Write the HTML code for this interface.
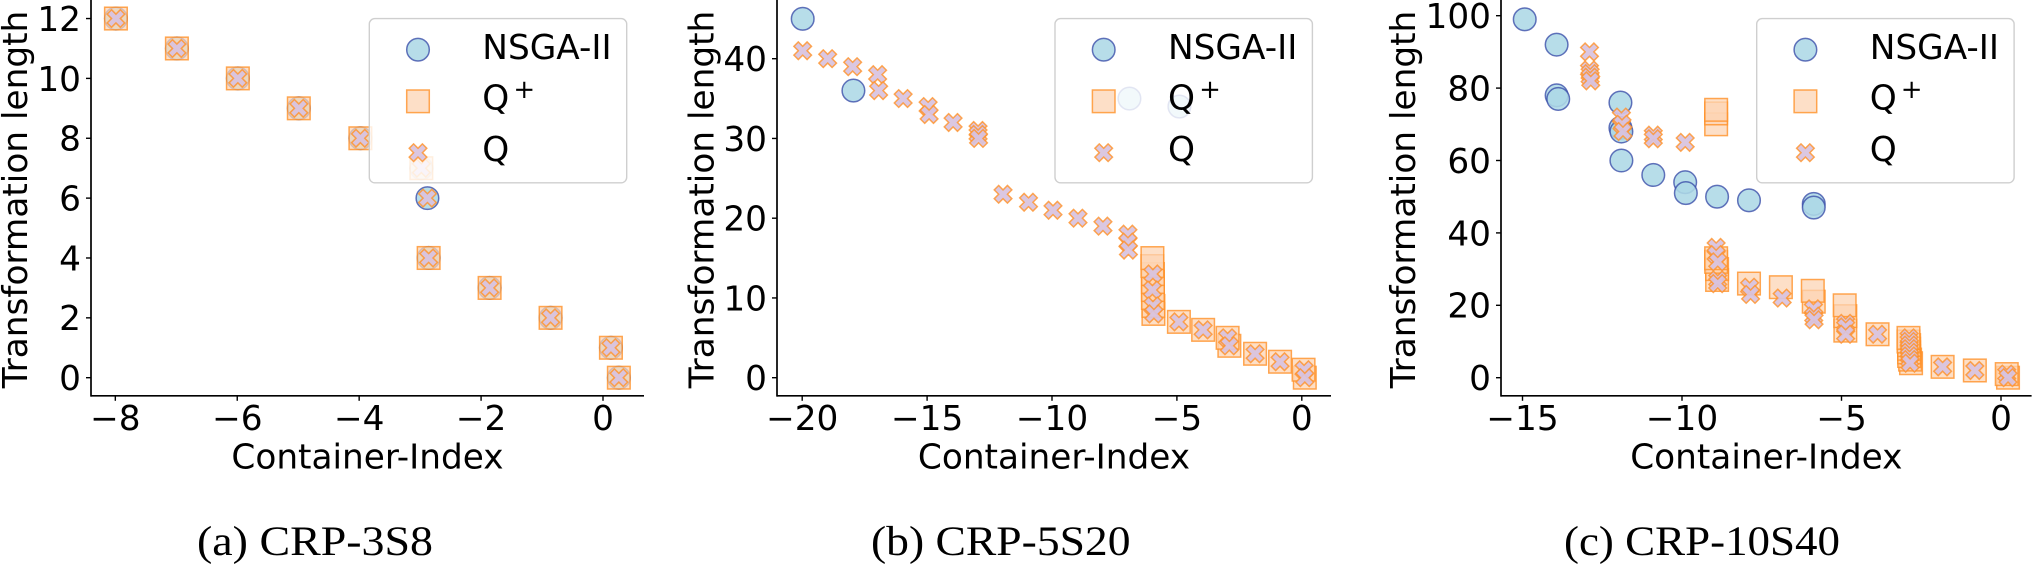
<!DOCTYPE html>
<html lang="en">
<head>
<meta charset="utf-8">
<title>Transformation length vs Container-Index</title>
<style>
html,body{margin:0;padding:0;background:#fff;width:2033px;height:565px;overflow:hidden}
svg{display:block}
text{font-family:"DejaVu Sans","Liberation Sans",sans-serif;fill:#000;text-rendering:geometricPrecision}
.cap{font-family:"Liberation Serif",serif}
</style>
</head>
<body>
<svg id="figure" xmlns="http://www.w3.org/2000/svg" width="2033" height="565" viewBox="0 0 2033 565"></svg>
<script>
// ---- Panel (a) CRP-3S8 ----
const aXTicks = [-8, -6, -4, -2, 0];
const aYTicks = [0, 2, 4, 6, 8, 10, 12];
const aNsgaX = [-7.99, -6.99, -5.99, -4.99, -3.98, -2.98, -2.88, -2.86, -1.86, -0.86, 0.13, 0.26];
const aNsgaY = [12, 11, 10, 9, 8, 7, 6, 4, 3, 2, 1, 0];
const aQPlusX = [-7.99, -6.99, -5.99, -4.99, -3.98, -2.98, -2.86, -1.86, -0.86, 0.13, 0.26];
const aQPlusY = [12, 11, 10, 9, 8, 7, 4, 3, 2, 1, 0];
const aQX = [-7.99, -6.99, -5.99, -4.99, -3.98, -2.98, -2.88, -2.86, -1.86, -0.86, 0.13, 0.26];
const aQY = [12, 11, 10, 9, 8, 7, 6, 4, 3, 2, 1, 0];

// ---- Panel (b) CRP-5S20 ----
const bXTicks = [-20, -15, -10, -5, 0];
const bYTicks = [0, 10, 20, 30, 40];
const bNsgaX = [-19.98, -17.95, -6.9, -4.9];
const bNsgaY = [45, 36, 35, 34];
const bQPlusX = [-5.98, -5.98, -5.96, -5.96, -5.96, -5.96, -5.94, -5.94, -4.92, -3.95, -2.97, -2.9, -1.87, -0.87, 0.07, 0.12];
const bQPlusY = [15, 14, 13, 12, 11, 10, 9, 8, 7, 6, 5, 4, 3, 2, 1, 0];
const bQX = [-19.98, -18.98, -17.98, -16.98, -16.94, -15.96, -14.96, -14.92, -13.96, -12.96, -12.96, -12.94, -11.96, -10.94, -9.96, -8.96, -7.96, -6.96, -6.96, -6.94, -5.96, -5.98, -5.96, -5.92, -4.92, -3.95, -2.97, -2.9, -1.87, -0.87, 0.09, 0.12];
const bQY = [41, 40, 39, 38, 36, 35, 34, 33, 32, 31, 30.5, 30, 23, 22, 21, 20, 19, 18, 17, 16, 13, 11, 9, 8, 7, 6, 5, 4, 3, 2, 1, 0];

// ---- Panel (c) CRP-10S40 ----
const cXTicks = [-15, -10, -5, 0];
const cYTicks = [0, 20, 40, 60, 80, 100];
const cNsgaX = [-14.93, -13.93, -13.93, -13.88, -11.93, -11.93, -11.9, -11.9, -10.9, -9.9, -9.88, -8.9, -7.9, -5.87, -5.87];
const cNsgaY = [99, 92, 78, 77, 76, 69, 68, 60, 56, 54, 51, 50, 49, 48, 47];
const cQPlusX = [-8.93, -8.93, -8.93, -8.93, -8.93, -8.9, -8.9, -7.9, -6.9, -5.9, -5.87, -4.9, -4.88, -4.88, -3.87, -2.9, -2.9, -2.88, -2.88, -2.88, -2.88, -2.85, -2.82, -1.83, -0.82, 0.18, 0.22];
const cQPlusY = [74, 73, 70, 33, 32, 30, 27, 26, 25, 24, 21, 20, 17, 13, 12, 11, 10, 9, 8, 7, 6, 5, 4, 3, 2, 1, 0];
const cQX = [-12.9, -12.9, -12.88, -12.88, -12.86, -11.9, -11.88, -11.85, -10.9, -10.9, -9.9, -8.93, -8.93, -8.88, -8.88, -8.88, -7.88, -7.85, -6.86, -5.88, -5.87, -5.86, -4.87, -4.87, -4.87, -3.87, -2.88, -2.88, -2.87, -2.87, -2.87, -2.87, -2.86, -2.85, -1.83, -0.82, 0.18, 0.22];
const cQY = [90, 85, 84, 83, 82, 72, 70, 68, 67, 66, 65, 36, 34, 32, 27, 26, 25, 23, 22, 19, 17, 16, 15, 14, 12, 12, 11, 10, 9, 8, 7, 6, 5, 4, 3, 2, 1, 0];

const NS = 'http://www.w3.org/2000/svg';
const root = document.getElementById('figure');
const TICK_FONT = 34.3;

function mk(parent, tag, attrs) {
  const e = document.createElementNS(NS, tag);
  for (const k in attrs) e.setAttribute(k, attrs[k]);
  parent.appendChild(e);
  return e;
}
function label(parent, str, x, y, anchor, size, extra) {
  const t = mk(parent, 'text', Object.assign({x: x, y: y, 'text-anchor': anchor, 'font-size': size}, extra || {}));
  t.textContent = str;
  return t;
}
function drawCircle(g, cx, cy) {
  return mk(g, 'circle', {cx: cx, cy: cy, r: 11.3, fill: 'rgba(173,216,230,0.88)', stroke: 'rgba(60,80,170,0.8)', 'stroke-width': 1.5});
}
function drawSquare(g, cx, cy) {
  return mk(g, 'rect', {x: cx - 11.3, y: cy - 11.3, width: 22.6, height: 22.6, fill: 'rgba(252,212,180,0.75)', stroke: 'rgba(255,145,40,0.8)', 'stroke-width': 1.5});
}
function drawCross(g, cx, cy) {
  const u = 4.4;
  const shape = [[-1,-2],[-2,-1],[-1,0],[-2,1],[-1,2],[0,1],[1,2],[2,1],[1,0],[2,-1],[1,-2],[0,-1]];
  const pts = shape.map(function (p) { return (cx + p[0] * u).toFixed(2) + ',' + (cy + p[1] * u).toFixed(2); }).join(' ');
  return mk(g, 'polygon', {points: pts, fill: 'rgba(216,194,222,0.92)', stroke: 'rgba(255,145,40,0.8)', 'stroke-width': 1.5, 'stroke-linejoin': 'miter'});
}

function drawPanel(cfg) {
  const x = function (v) { return cfg.x0 + cfg.xUnit * v; };
  const y = function (v) { return 377.7 - cfg.yUnit * v; };
  const AXIS_Y = 395.8;

  const g = mk(root, 'g', {});
  
  

  // series: NSGA-II, then Q+, then Q
  const s1 = mk(g, 'g', {});
  
  
  cfg.nsgaX.forEach(function (v, i) {
    const m = drawCircle(s1, x(v), y(cfg.nsgaY[i]));
    
    
  });
  const s2 = mk(g, 'g', {});
  
  
  for (let i = cfg.qpX.length - 1; i >= 0; i--) {
    const m = drawSquare(s2, x(cfg.qpX[i]), y(cfg.qpY[i]));
    
    
  }
  const s3 = mk(g, 'g', {});
  
  
  cfg.qX.forEach(function (v, i) {
    const m = drawCross(s3, x(v), y(cfg.qY[i]));
    
    
  });

  // spines
  const ls = mk(g, 'line', {x1: cfg.left, x2: cfg.left, y1: 0, y2: AXIS_Y + 0.8, stroke: '#000', 'stroke-width': 1.7});
  
  
  const bs = mk(g, 'line', {x1: cfg.left, x2: cfg.right, y1: AXIS_Y, y2: AXIS_Y, stroke: '#000', 'stroke-width': 1.7});
  
  

  // ticks
  cfg.xTicks.forEach(function (v) {
    const t = mk(g, 'line', {x1: x(v), x2: x(v), y1: AXIS_Y, y2: AXIS_Y + 5, stroke: '#000', 'stroke-width': 1.4});
    
    
    const l = label(g, (v < 0 ? '\u2212' + (-v) : String(v)), x(v), 430, 'middle', TICK_FONT);
    
    
  });
  cfg.yTicks.forEach(function (v) {
    const t = mk(g, 'line', {x1: cfg.left - 5, x2: cfg.left, y1: y(v), y2: y(v), stroke: '#000', 'stroke-width': 1.4});
    
    
    const l = label(g, String(v), cfg.left - 10, y(v) + 12.4, 'end', TICK_FONT);
    
    
  });

  // axis titles
  const xt = label(g, 'Container-Index', (cfg.left + cfg.right) / 2, 468.3, 'middle', TICK_FONT);
  
  
  const yt = label(g, 'Transformation length', 0, 0, 'middle', TICK_FONT, {transform: 'translate(' + cfg.yTitleX + ' 199.5) rotate(-90)'});
  
  

  // legend
  const L = cfg.legendX;
  const lg = mk(g, 'g', {});
  
  
  const box = mk(lg, 'rect', {x: L, y: 18.6, width: 257.4, height: 164.2, rx: 5.5, ry: 5.5, fill: 'rgba(255,255,255,0.82)', stroke: 'rgba(204,204,204,0.95)', 'stroke-width': 1.4});
  
  
  const m1 = drawCircle(lg, L + 48.7, 49.7);
  
  
  const t1 = label(lg, 'NSGA-II', L + 113, 59, 'start', TICK_FONT);
  
  
  const m2 = drawSquare(lg, L + 48.7, 101.3);
  
  
  const t2 = label(lg, 'Q', L + 113, 109.5, 'start', TICK_FONT);
  
  
  const t2s = label(lg, '+', L + 155, 98, 'middle', 26);
  
  
  const m3 = drawCross(lg, L + 48.7, 152.7);
  
  
  const t3 = label(lg, 'Q', L + 113, 161, 'start', TICK_FONT);
  
  

  // caption
  const cap = label(g, cfg.caption, cfg.capX, 555, 'start', 42, {class: 'cap', textLength: cfg.capW, lengthAdjust: 'spacingAndGlyphs'});
  
  
}

drawPanel({name: 'panel-crp-3s8', x0: 603, xUnit: 60.96, yUnit: 29.93, left: 91, right: 644, yTitleX: 27, legendX: 369.3,
  xTicks: aXTicks, yTicks: aYTicks, nsgaX: aNsgaX, nsgaY: aNsgaY, qpX: aQPlusX, qpY: aQPlusY, qX: aQX, qY: aQY,
  caption: '(a) CRP-3S8', capX: 197, capW: 236});
drawPanel({name: 'panel-crp-5s20', x0: 1301.8, xUnit: 24.98, yUnit: 7.975, left: 777, right: 1331, yTitleX: 713.3, legendX: 1055,
  xTicks: bXTicks, yTicks: bYTicks, nsgaX: bNsgaX, nsgaY: bNsgaY, qpX: bQPlusX, qpY: bQPlusY, qX: bQX, qY: bQY,
  caption: '(b) CRP-5S20', capX: 871, capW: 259.5});
drawPanel({name: 'panel-crp-10s40', x0: 2001, xUnit: 31.9, yUnit: 3.62, left: 1501, right: 2031.6, yTitleX: 1415, legendX: 1756.7,
  xTicks: cXTicks, yTicks: cYTicks, nsgaX: cNsgaX, nsgaY: cNsgaY, qpX: cQPlusX, qpY: cQPlusY, qX: cQX, qY: cQY,
  caption: '(c) CRP-10S40', capX: 1564, capW: 276});
</script>
</body>
</html>
